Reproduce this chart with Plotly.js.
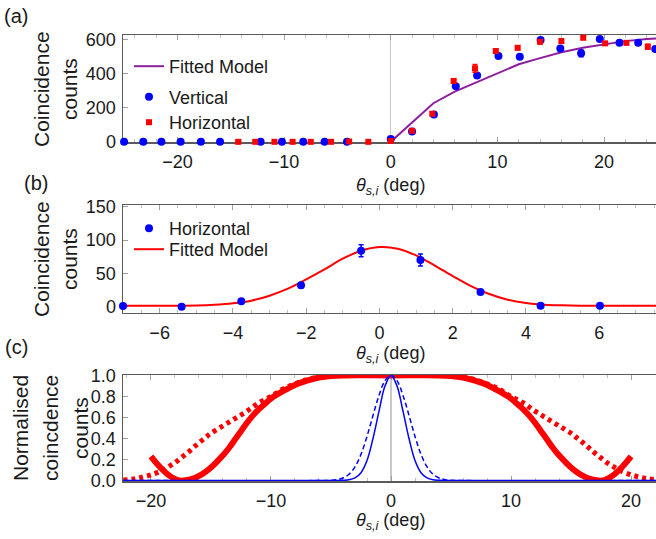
<!DOCTYPE html>
<html><head><meta charset="utf-8">
<script src="https://cdn.plot.ly/plotly-3.0.1.min.js"></script>
<style>html,body{margin:0;padding:0;background:#fff;overflow:hidden}#chart{width:656px;height:539px}</style>
</head><body><div id="chart"></div>
<script>
// ---------- Panel (a) data ----------
const aFitX = [0, 2, 4, 6, 8, 10, 12, 14, 16, 18, 20, 22, 24, 25];
const aFitY = [0, 113, 227, 295, 350, 405, 456, 492, 527, 553, 573, 592, 604, 608];
const aVertX = [-25, -23.2, -21.5, -19.7, -17.8, -16, -12.2, -10.2, -8.2, -6.2, -4.1, 0, 2, 4.05, 6.1, 8.1, 10.1, 12.1, 14.05, 15.9, 17.85, 19.6, 21.45, 23.2, 24.8];
const aVertY = [0, 0, 0, 0, 0, 0, 0, 0, 0, 0, 0, 16, 60, 161, 327, 390, 504, 500, 598, 549, 520, 604, 582, 582, 545];
const aVertErr = [2, 2, 2, 2, 2, 2, 2, 2, 2, 2, 2, 3, 5, 6, 8, 8, 8, 12, 8, 10, 20, 8, 6, 6, 6];
const aHorX = [-14.3, -12.7, -10.9, -9.2, -7.5, -5.6, -3.9, -2.1, 0, 2, 3.9, 5.9, 7.9, 9.85, 11.9, 14.0, 16.0, 18.05, 20.1, 22.1, 24.1];
const aHorY = [0, 0, 0, 0, 0, 0, 2, 0, 5, 65, 165, 358, 432, 534, 553, 588, 592, 612, 579, 582, 559];
const aHorErr = [3, 3, 3, 3, 3, 3, 3, 3, 3, 5, 6, 10, 23, 10, 12, 12, 12, 10, 8, 10, 15];

// ---------- Panel (b) data ----------
const bPtX = [-7.0, -5.4, -3.77, -2.14, -0.5, 1.12, 2.76, 4.4, 6.02, 7.62];
const bPtY = [1, 0, 8, 32, 84, 70, 22, 1.5, 1.5, 2];
const bPtErr = [1, 1, 2, 4, 9, 9, 3, 2, 2, 2];
const bFitX = [-7, -6, -5, -4.5, -4, -3.5, -3, -2.5, -2, -1.5, -1, -0.5, 0, 0.5, 1, 1.5, 2, 2.5, 3, 3.5, 4, 4.5, 5, 5.5, 6, 7, 7.6];
const bFitY = [1.5, 1.5, 1.8, 2.8, 5, 9, 16.5, 27, 41, 56, 72, 84, 89.5, 87, 77, 62, 46, 31, 19, 10.5, 5.5, 3, 2, 1.6, 1.5, 1.5, 1.5];

// ---------- Panel (c) data ----------
const cSolX = [-20, -19.5, -19, -18.5, -18, -17.6, -17, -16.5, -16, -15.5, -15, -14.5, -14, -13.5, -13, -12.5, -12, -11.5, -11, -10.5, -10, -9, -8, -7, -6, -5, -4, 0, 4, 5, 6, 7, 8, 9, 10, 10.5, 11, 11.5, 12, 12.5, 13, 13.5, 14, 14.5, 15, 15.5, 16, 16.5, 17, 17.6, 18, 18.5, 19, 19.5, 20];
const cSolY = [0.23, 0.16, 0.10, 0.05, 0.015, 0.0, 0.005, 0.02, 0.045, 0.08, 0.125, 0.18, 0.24, 0.31, 0.39, 0.47, 0.55, 0.62, 0.68, 0.73, 0.78, 0.85, 0.91, 0.95, 0.98, 0.995, 1.0, 1.0, 1.0, 0.995, 0.98, 0.95, 0.91, 0.85, 0.78, 0.73, 0.68, 0.62, 0.55, 0.47, 0.39, 0.31, 0.24, 0.18, 0.125, 0.08, 0.045, 0.02, 0.005, 0.0, 0.015, 0.05, 0.10, 0.16, 0.23];
const cDotX = [-22.3, -21.5, -21, -20, -19, -18.5, -18, -17.5, -17, -16.5, -16, -15.5, -15, -14, -13, -12, -11, -10, -9, -8, -7, -6, -5, -4, 0, 4, 5, 6, 7, 8, 9, 10, 11, 12, 13, 14, 15, 15.5, 16, 16.5, 17, 17.5, 18, 18.5, 19, 20, 21, 21.5, 22.3];
const cDotY = [0.005, 0.015, 0.025, 0.055, 0.10, 0.135, 0.17, 0.215, 0.26, 0.31, 0.36, 0.405, 0.45, 0.52, 0.59, 0.66, 0.74, 0.80, 0.87, 0.92, 0.96, 0.985, 0.997, 1.0, 1.0, 1.0, 0.997, 0.985, 0.96, 0.92, 0.87, 0.80, 0.74, 0.66, 0.59, 0.52, 0.45, 0.405, 0.36, 0.31, 0.26, 0.215, 0.17, 0.135, 0.10, 0.055, 0.025, 0.015, 0.005];
const cNarX = [-22.3, -4.5, -4, -3.5, -3, -2.5, -2, -1.5, -1, -0.5, 0, 0.5, 1, 1.5, 2, 2.5, 3, 3.5, 4, 4.5, 22.3];
const cNarY = [0, 0, 0.002, 0.007, 0.025, 0.075, 0.19, 0.40, 0.66, 0.90, 1.0, 0.90, 0.66, 0.40, 0.19, 0.075, 0.025, 0.007, 0.002, 0, 0];
const cWidX = [-22.3, -6, -5.5, -5, -4.5, -4, -3.5, -3, -2.5, -2, -1.5, -1, -0.5, 0, 0.5, 1, 1.5, 2, 2.5, 3, 3.5, 4, 4.5, 5, 5.5, 6, 22.3];
const cWidY = [0, 0, 0.001, 0.003, 0.009, 0.025, 0.06, 0.13, 0.25, 0.42, 0.62, 0.81, 0.95, 1.0, 0.95, 0.81, 0.62, 0.42, 0.25, 0.13, 0.06, 0.025, 0.009, 0.003, 0.001, 0, 0];

// ---------- tick labels / texts ----------
const panelLabels = ['(a)', '(b)', '(c)'];
const xTitleText = '<i>θ</i><sub><i>s,i</i></sub> (deg)';

// ---------- geometry helpers (pixels -> paper) ----------
const W = 656, H = 539, ML = 123, MR = 0;
const PW = W - ML - MR;
const px = p => (p - ML) / PW;
const py = p => 1 - p / H;
const F = 'Liberation Sans, Arial, Helvetica, sans-serif';

const traces = [
  {x: aFitX, y: aFitY, mode: 'lines', name: 'Fitted Model', line: {color: '#8e1d9c', width: 2},
   xaxis: 'x', yaxis: 'y', legend: 'legend', cliponaxis: false},
  {x: aVertX, y: aVertY, mode: 'markers', name: 'Vertical', marker: {color: '#0000ff', size: 8, symbol: 'circle'},
   error_y: {type: 'data', array: aVertErr, color: '#0000ff', thickness: 1.5, width: 2.5},
   xaxis: 'x', yaxis: 'y', legend: 'legend3', cliponaxis: false},
  {x: aHorX, y: aHorY, mode: 'markers', name: 'Horizontal', marker: {color: '#ff0000', size: 6, symbol: 'square'},
   error_y: {type: 'data', array: aHorErr, color: '#ff0000', thickness: 1.5, width: 2.5},
   xaxis: 'x', yaxis: 'y', legend: 'legend4', cliponaxis: false},

  {x: bFitX, y: bFitY, mode: 'lines', name: 'Fitted Model', line: {color: '#ff0000', width: 2, shape: 'spline'},
   xaxis: 'x2', yaxis: 'y2', legend: 'legend5', cliponaxis: false},
  {x: bPtX, y: bPtY, mode: 'markers', name: 'Horizontal', marker: {color: '#0000ff', size: 8},
   error_y: {type: 'data', array: bPtErr, color: '#0000ff', thickness: 1.5, width: 2.5},
   xaxis: 'x2', yaxis: 'y2', legend: 'legend2', cliponaxis: false},

  {x: cDotX, y: cDotY, mode: 'lines', line: {color: '#ff0000', width: 5, dash: '4px,4px', shape: 'spline'},
   xaxis: 'x3', yaxis: 'y3', showlegend: false, cliponaxis: false},
  {x: cSolX, y: cSolY, mode: 'lines', line: {color: '#ff0000', width: 6, shape: 'spline'},
   xaxis: 'x3', yaxis: 'y3', showlegend: false, cliponaxis: false},
  {x: cWidX, y: cWidY, mode: 'lines', line: {color: '#0000ff', width: 1.5, dash: '5px,3px', shape: 'spline'},
   xaxis: 'x3', yaxis: 'y3', showlegend: false, cliponaxis: false},
  {x: cNarX, y: cNarY, mode: 'lines', line: {color: '#0000ff', width: 1.5, shape: 'spline'},
   xaxis: 'x3', yaxis: 'y3', showlegend: false, cliponaxis: false}
];

const tickFont = {family: F, size: 18, color: '#1a1a1a'};
function xax(range, dtick, minorDtick, anchor, zero) {
  return {range: range, dtick: dtick, tick0: 0, anchor: anchor, domain: [0, 1],
    showline: true, linecolor: '#5a5a5a', linewidth: 1.5, mirror: 'ticks',
    ticks: 'inside', ticklen: 5, tickwidth: 1, tickcolor: '#a0a0a0',
    minor: {ticks: 'inside', ticklen: 3, tickcolor: '#c0c0c0', dtick: minorDtick},
    showgrid: false, zeroline: zero, zerolinecolor: '#c8c8c8', zerolinewidth: 1.5,
    tickfont: tickFont, ticklabelstandoff: 3, layer: 'below traces', fixedrange: true};
}
function yax(range, dtick, anchor, top, bottom, fmt) {
  return {range: range, dtick: dtick, tick0: 0, anchor: anchor, domain: [py(bottom), py(top)],
    showline: true, linecolor: '#5a5a5a', linewidth: 1.5, mirror: false,
    ticks: 'inside', ticklen: 5, tickwidth: 1, tickcolor: '#a0a0a0',
    showgrid: false, zeroline: false, tickfont: tickFont, tickformat: fmt || '',
    ticklabelstandoff: 2, layer: 'below traces', fixedrange: true};
}

const ann = [];
function addText(t, x, y, size, angle) {
  ann.push({text: t, xref: 'paper', yref: 'paper', x: px(x), y: py(y), xanchor: 'center', yanchor: 'middle',
    showarrow: false, textangle: angle || 0, font: {family: F, size: size, color: '#1a1a1a'}});
}
addText(panelLabels[0], 16, 16, 20);
addText(panelLabels[1], 36, 183, 20);
addText(panelLabels[2], 16, 347, 20);
addText('Coincidence', 41, 89, 21, -90);
addText('counts', 69, 89, 21, -90);
addText('Coincidence', 41, 259, 21, -90);
addText('counts', 69, 259, 21, -90);
addText('Normalised', 20, 428, 21, -90);
addText('coincdence', 50, 428, 21, -90);
addText('counts', 80, 428, 21, -90);
addText(xTitleText, 390, 186, 18);
addText(xTitleText, 390, 354, 18);
addText(xTitleText, 390, 521, 18);

const legFont = {family: F, size: 18, color: '#1a1a1a'};
function leg(topPx) {
  return {x: px(129), y: py(topPx), xanchor: 'left', yanchor: 'top', bgcolor: 'rgba(0,0,0,0)',
    font: legFont, itemwidth: 30, tracegroupgap: 0, traceorder: 'normal'};
}
const layout = {
  width: W, height: H, margin: {l: ML, r: MR, t: 0, b: 0, pad: 0},
  paper_bgcolor: '#fff', plot_bgcolor: '#fff', font: {family: F, color: '#1a1a1a'},
  xaxis: xax([-25.1, 24.87], 10, 2, 'y', true),
  yaxis: yax([-1, 628], 200, 'x', 35, 142),
  xaxis2: xax([-7.0, 7.55], 2, 0.5, 'y2', false),
  yaxis2: yax([-9, 152.5], 50, 'x2', 205, 312.7),
  xaxis3: xax([-22.33, 22.08], 10, 2, 'y3', true),
  yaxis3: yax([-0.004, 1.004], 0.2, 'x3', 375, 481, '.1f'),
  legend: leg(48),
  legend3: leg(78.5),
  legend4: leg(104),
  legend2: leg(210),
  legend5: leg(231),
  annotations: ann,
  showlegend: true
};
Plotly.newPlot('chart', traces, layout, {staticPlot: true, displayModeBar: false});
</script>
</body></html>
